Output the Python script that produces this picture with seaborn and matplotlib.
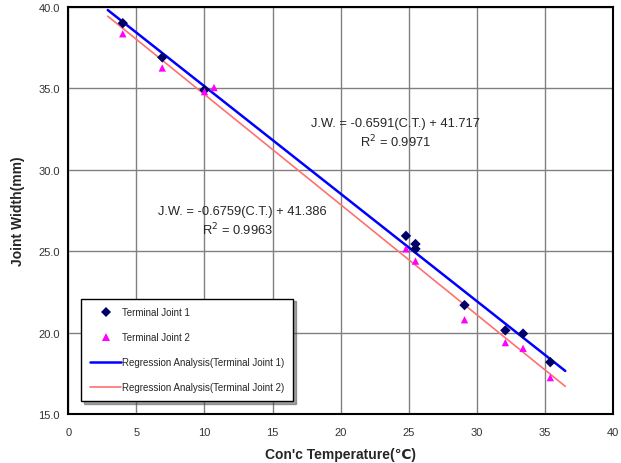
import numpy as np
import pandas as pd
import matplotlib
matplotlib.use('Agg')
import matplotlib.pyplot as plt
import seaborn as sns

# data
temp_j1 = [4.0, 6.9, 10.0, 24.8, 25.5, 25.5, 29.1, 32.1, 33.4, 35.4]
width_j1 = [39.0, 36.9, 34.9, 25.95, 25.45, 25.15, 21.7, 20.15, 19.95, 18.2]
temp_j2 = [4.0, 6.9, 10.0, 10.7, 24.8, 25.5, 29.1, 32.1, 33.4, 35.4]
width_j2 = [38.35, 36.25, 34.8, 35.05, 25.15, 24.4, 20.8, 19.4, 19.05, 17.25]

slopes = [-0.6591, -0.6759]
intercepts = [41.717, 41.386]
r2 = [0.9971, 0.9963]
fit_range = [2.9, 36.5]

series = ['Terminal Joint 1', 'Terminal Joint 2']
fit_names = ['Regression Analysis(Terminal Joint 1)', 'Regression Analysis(Terminal Joint 2)']

sns.set_style('white')
plt.rcParams['font.family'] = ['Liberation Sans', 'DejaVu Sans']

fig, ax = plt.subplots(figsize=(6.21, 4.64), dpi=100)
fig.subplots_adjust(left=0.11, right=0.987, top=0.983, bottom=0.105)

pts = pd.concat([
    pd.DataFrame({'T': temp_j1, 'W': width_j1, 's': series[0]}),
    pd.DataFrame({'T': temp_j2, 'W': width_j2, 's': series[1]}),
])
sns.scatterplot(data=pts, x='T', y='W', hue='s', style='s',
                markers={series[0]: 'D', series[1]: '^'},
                palette={series[0]: '#000066', series[1]: '#ff00ff'},
                s=28, linewidth=0, ax=ax, zorder=4)

xs = np.linspace(fit_range[0], fit_range[1], 2)
fits = pd.concat([
    pd.DataFrame({'T': xs, 'W': slopes[i] * xs + intercepts[i], 'f': fit_names[i]})
    for i in range(2)
])
sns.lineplot(data=fits, x='T', y='W', hue='f',
             palette={fit_names[0]: '#0000ff', fit_names[1]: '#ff7070'},
             size='f', sizes={fit_names[0]: 1.8, fit_names[1]: 1.2},
             ax=ax, zorder=3)

# equation labels
fs = 9.3
ax.text(24.0, 32.9, 'J.W. = %.4f(C.T.) + %.3f' % (slopes[0], intercepts[0]),
        ha='center', va='center', fontsize=fs)
ax.text(24.0, 31.75, 'R$^2$ = %.4f' % r2[0], ha='center', va='center', fontsize=fs)
ax.text(12.8, 27.5, 'J.W. = %.4f(C.T.) + %.3f' % (slopes[1], intercepts[1]),
        ha='center', va='center', fontsize=fs)
ax.text(12.4, 26.35, 'R$^2$ = %.4f' % r2[1], ha='center', va='center', fontsize=fs)

ax.set_xlim(0, 40)
ax.set_ylim(15, 40)
ax.set_xticks(np.arange(0, 41, 5))
ax.set_yticks(np.arange(15, 41, 5))
ax.set_yticklabels(['%.1f' % v for v in np.arange(15, 41, 5)])
ax.tick_params(labelsize=8, colors='#333333', length=0)
ax.tick_params(axis='x', pad=9)
ax.tick_params(axis='y', pad=6)
ax.grid(True, color='#808080', linewidth=1)
for sp in ax.spines.values():
    sp.set_color('black')
    sp.set_linewidth(1.5)

ax.set_xlabel('Con\'c Temperature(℃)', fontsize=10, fontweight='bold', labelpad=7)
ax.set_ylabel('Joint Width(mm)', fontsize=10, fontweight='bold', labelpad=10)

handles, labels = ax.get_legend_handles_labels()
keep = [labels.index(n) for n in series + fit_names]
leg = ax.legend([handles[i] for i in keep], [labels[i] for i in keep],
                loc='lower left', bbox_to_anchor=(0.024, 0.032), borderaxespad=0,
                fontsize=7, frameon=True, fancybox=False, shadow=True,
                edgecolor='black', labelspacing=1.55, handlelength=3.2,
                handletextpad=0.1, borderpad=0.9)
leg.get_frame().set_linewidth(1.0)

plt.savefig('out.png', dpi=100)
